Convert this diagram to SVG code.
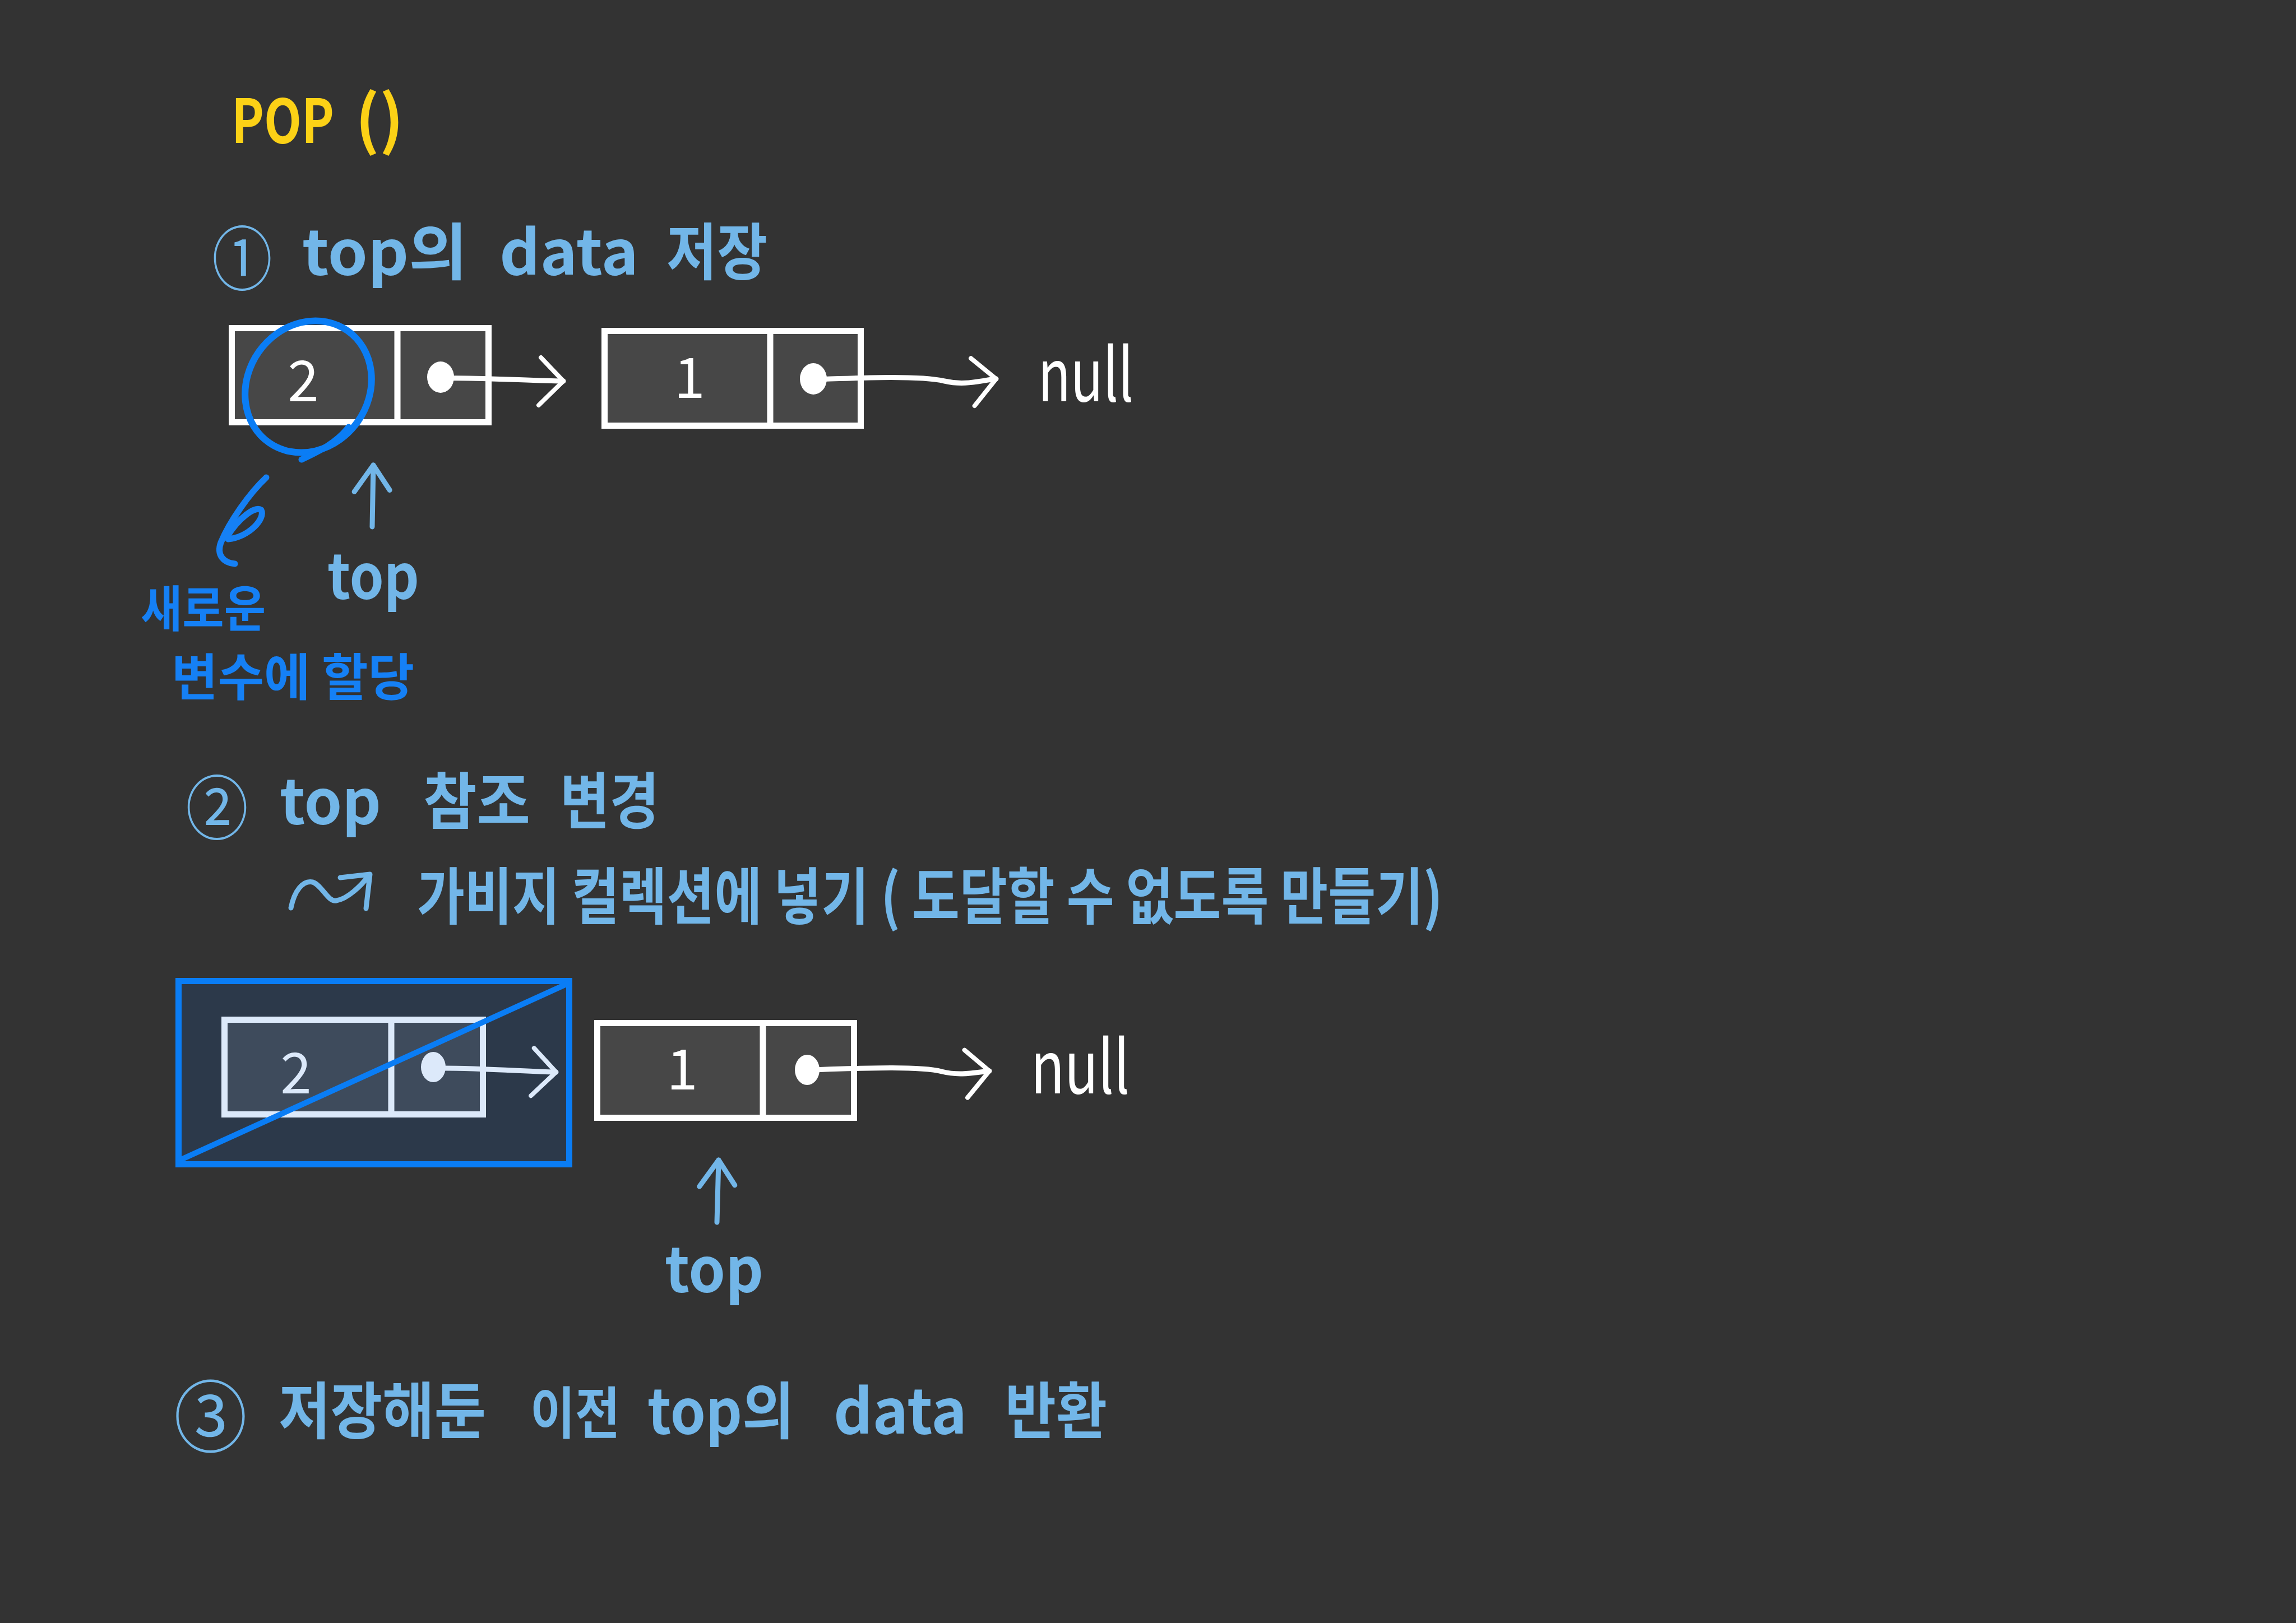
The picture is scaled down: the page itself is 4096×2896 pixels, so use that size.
<svg xmlns="http://www.w3.org/2000/svg" width="4096" height="2896" viewBox="0 0 4096 2896">
<style>
text{font-family:"Noto Sans CJK KR","Liberation Sans",sans-serif;}
.lb{fill:#72b6e8;font-size:110px;font-weight:bold;}
.db{fill:#1580f5;font-weight:bold;}
.wt{fill:#ffffff;}
.box{fill:#474747;stroke:#ffffff;stroke-width:11;}
.div{stroke:#ffffff;stroke-width:11;}
.dot{fill:#ffffff;}
.wline{fill:none;stroke:#ffffff;stroke-width:9;stroke-linecap:round;marker-end:url(#chev-w);}
.bline{fill:none;stroke:#72b6e8;stroke-width:9;stroke-linecap:round;marker-end:url(#chev-b);}
</style>
<defs>
<marker id="chev-w" markerUnits="userSpaceOnUse" viewBox="-60 -60 70 120" markerWidth="70" markerHeight="120" refX="0" refY="0" orient="auto" overflow="visible">
<path d="M-40,-42 L0,0 L-44,43" fill="none" stroke="#ffffff" stroke-width="8" stroke-linecap="round" stroke-linejoin="round"/>
</marker>
<marker id="chev-b" markerUnits="userSpaceOnUse" viewBox="-60 -60 70 120" markerWidth="70" markerHeight="120" refX="0" refY="0" orient="auto" overflow="visible">
<path d="M-48,-33 L0,0 L-44,30" fill="none" stroke="#72b6e8" stroke-width="9" stroke-linecap="round" stroke-linejoin="round"/>
</marker>
</defs>
<rect x="0" y="0" width="4096" height="2896" fill="#333333"/>

<g id="title">
<text fill="#fcd116" font-weight="bold" y="255"><tspan x="413" font-size="108" textLength="183" lengthAdjust="spacingAndGlyphs">POP</tspan><tspan x="634" font-size="115" textLength="86" lengthAdjust="spacingAndGlyphs">()</tspan></text>
</g>

<g id="step1">
<text class="lb"><tspan x="378" y="508" font-size="125" font-weight="normal" textLength="108" lengthAdjust="spacingAndGlyphs">①</tspan> <tspan x="539" y="490" textLength="295" lengthAdjust="spacingAndGlyphs">top의</tspan> <tspan x="891" y="490" textLength="248" lengthAdjust="spacingAndGlyphs">data</tspan> <tspan x="1189" y="490" textLength="180" lengthAdjust="spacingAndGlyphs">저장</tspan></text>
</g>

<g id="node-top-a">
<rect class="box" x="413.5" y="585.5" width="458" height="168"/>
<line class="div" x1="709" y1="585" x2="709" y2="754"/>
<text class="wt" x="541" y="716" font-size="100" text-anchor="middle">2</text>
<ellipse class="dot" cx="786" cy="673" rx="24" ry="28"/>
</g>

<g id="node-one-a">
<rect class="box" x="1078.5" y="590.5" width="457" height="169"/>
<line class="div" x1="1374" y1="590" x2="1374" y2="760"/>
<text class="wt" x="1230" y="710" font-size="100" text-anchor="middle">1</text>
<ellipse class="dot" cx="1451" cy="676" rx="24" ry="28"/>
</g>

<g id="null-a">
<text class="wt" x="1852" y="716" font-size="130" textLength="170" lengthAdjust="spacingAndGlyphs">null</text>
</g>

<g id="highlight">
<ellipse cx="550" cy="690" rx="108" ry="122" transform="rotate(35 550 690)" fill="none" stroke="#0a7df5" stroke-width="12"/>
<path d="M622,762 C600,790 570,805 538,820" fill="none" stroke="#0a7df5" stroke-width="11" stroke-linecap="round"/>
</g>

<g id="label-new-var">
<text class="db" x="251" y="1118" font-size="88" textLength="223" lengthAdjust="spacingAndGlyphs">새로운</text>
<text class="db" x="306" y="1241" font-size="90" textLength="433" lengthAdjust="spacingAndGlyphs">변수에 할당</text>
</g>

<g id="label-top-a">
<text class="lb" x="584" y="1068" font-size="125" textLength="164" lengthAdjust="spacingAndGlyphs">top</text>
</g>

<g id="step2">
<text class="lb"><tspan x="331" y="1488" font-size="125" font-weight="normal" textLength="112" lengthAdjust="spacingAndGlyphs">②</tspan> <tspan x="499" y="1470" textLength="181" lengthAdjust="spacingAndGlyphs">top</tspan> <tspan x="755" y="1470" textLength="191" lengthAdjust="spacingAndGlyphs">참조</tspan> <tspan x="999" y="1470" textLength="177" lengthAdjust="spacingAndGlyphs">변경</tspan></text>
</g>

<g id="step2-note">
<path d="M519,1620 C525,1590 540,1570 558,1574 C575,1580 585,1610 600,1607 C620,1604 645,1580 658,1562 M607,1566 L660,1560 L653,1621" fill="none" stroke="#72b6e8" stroke-width="9" stroke-linecap="round" stroke-linejoin="round"/>
<text class="lb" x="744" y="1640" font-size="95" textLength="1830" lengthAdjust="spacingAndGlyphs">가비지 컬렉션에 넣기 ( 도달할 수 없도록 만들기)</text>
</g>

<g id="node-top-b">
<rect class="box" x="400.5" y="1819.5" width="461" height="169"/>
<line class="div" x1="698" y1="1819" x2="698" y2="1989"/>
<text class="wt" x="528" y="1951" font-size="100" text-anchor="middle">2</text>
<ellipse class="dot" cx="773" cy="1904" rx="22" ry="27"/>
</g>

<g id="node-one-b">
<rect class="box" x="1065.5" y="1825.5" width="458" height="169"/>
<line class="div" x1="1361" y1="1825" x2="1361" y2="1995"/>
<text class="wt" x="1217" y="1944" font-size="100" text-anchor="middle">1</text>
<ellipse class="dot" cx="1440" cy="1909" rx="22" ry="27"/>
</g>

<g id="null-b">
<text class="wt" x="1839" y="1951" font-size="130" textLength="176" lengthAdjust="spacingAndGlyphs">null</text>
</g>

<g id="label-top-b">
<text class="lb" x="1186" y="2305" font-size="125" textLength="176" lengthAdjust="spacingAndGlyphs">top</text>
</g>

<g id="step3">
<text class="lb"><tspan x="310" y="2580" font-size="140" font-weight="normal" textLength="131" lengthAdjust="spacingAndGlyphs">③</tspan> <tspan x="497" y="2558" textLength="370" lengthAdjust="spacingAndGlyphs">저장해둔</tspan> <tspan x="946" y="2558" font-size="100" textLength="160" lengthAdjust="spacingAndGlyphs">이전</tspan> <tspan x="1155" y="2558" textLength="262" lengthAdjust="spacingAndGlyphs">top의</tspan> <tspan x="1487" y="2558" textLength="238" lengthAdjust="spacingAndGlyphs">data</tspan> <tspan x="1793" y="2558" textLength="182" lengthAdjust="spacingAndGlyphs">반환</tspan></text>
</g>

<g id="connectors">
<path class="wline" d="M790,675 C860,673 950,680 1005,680"/>
<path class="wline" d="M1455,677 C1540,674 1640,670 1685,680 C1720,688 1745,680 1777,676"/>
<path class="bline" d="M664,940 L666,830"/>
<path d="M475,852 C445,880 410,930 394,968 C386,990 398,1004 419,1006 M405,958 C425,925 455,902 466,910 C474,925 445,958 407,962" fill="none" stroke="#1580f5" stroke-width="11" stroke-linecap="round" stroke-linejoin="round"/>
<path class="wline" d="M777,1906 C850,1905 940,1912 992,1913"/>
<path class="wline" d="M1444,1909 C1540,1906 1640,1902 1680,1912 C1712,1920 1738,1914 1765,1911"/>
<path class="bline" d="M1279,2181 L1282,2070"/>
</g>

<g id="crossout">
<rect x="318.5" y="1750.5" width="697" height="327" fill="rgb(10,100,220)" fill-opacity="0.14" stroke="#0a7df5" stroke-width="11"/>
<line x1="321" y1="2070" x2="1015" y2="1754" stroke="#0a7df5" stroke-width="10" stroke-linecap="round"/>
</g>
</svg>
